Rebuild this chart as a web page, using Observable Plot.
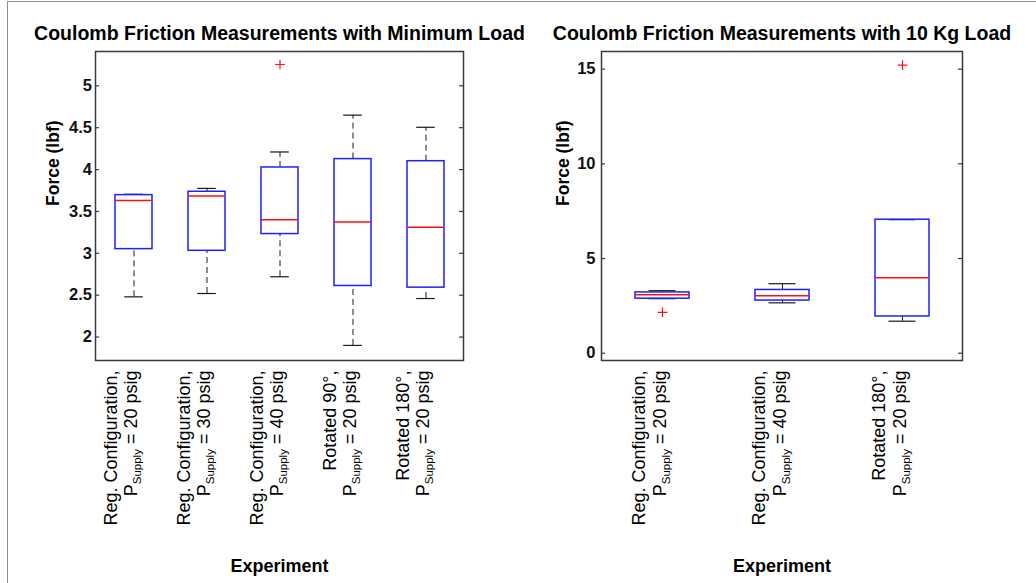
<!DOCTYPE html>
<html>
<head>
<meta charset="utf-8">
<script src="https://cdn.jsdelivr.net/npm/d3@7"></script>
<script src="https://cdn.jsdelivr.net/npm/@observablehq/plot@0.6"></script>
<style>
  body { margin: 0; background: #fff; }
  #page { position: relative; width: 1036px; height: 583px; overflow: hidden;
          font-family: "Liberation Sans", Arial, Helvetica, sans-serif; background: #fff; }
  #page svg { position: absolute; top: 0; }
  .edge { position: absolute; left: 7px; top: 1px; right: -5px; bottom: -5px;
          border-left: 1.5px solid #8c8c8c; border-top: 1.5px solid #8c8c8c; }
</style>
</head>
<body>
<div id="page"><div class="edge"></div></div>
<script>
// ---- Minimum load: five experiments ----
const minTitle = "Coulomb Friction Measurements with Minimum Load";
const minLine1 = ["Reg. Configuration,", "Reg. Configuration,", "Reg. Configuration,", "Rotated 90°,", "Rotated 180°,"];
const minPressure = [20, 30, 40, 20, 20];
const minLow    = [2.48, 2.52, 2.72, 1.90, 2.46];
const minQ1     = [3.05, 3.03, 3.23, 2.61, 2.59];
const minMedian = [3.63, 3.685, 3.40, 3.375, 3.31];
const minQ3     = [3.695, 3.735, 4.025, 4.125, 4.10];
const minHigh   = [3.705, 3.775, 4.21, 4.65, 4.505];
const minOutlierIndex = [2];
const minOutlierValue = [5.255];
const minYTicks = [2, 2.5, 3, 3.5, 4, 4.5, 5];
const minYDomain = [1.72, 5.41];

// ---- 10 kg load: three experiments ----
const kgTitle = "Coulomb Friction Measurements with 10 Kg Load";
const kgLine1 = ["Reg. Configuration,", "Reg. Configuration,", "Rotated 180°,"];
const kgPressure = [20, 40, 20];
const kgLow    = [2.88, 2.66, 1.69];
const kgQ1     = [2.88, 2.78, 1.94];
const kgMedian = [3.08, 3.04, 3.98];
const kgQ3     = [3.21, 3.34, 7.05];
const kgHigh   = [3.30, 3.67, 7.05];
const kgOutlierIndex = [0, 2];
const kgOutlierValue = [2.16, 15.21];
const kgYTicks = [0, 5, 10, 15];
const kgYDomain = [-0.385, 15.93];

const yLabel = "Force (lbf)";
const xLabel = "Experiment";
const font = '"Liberation Sans", Arial, Helvetica, sans-serif';

function panel(cfg) {
  const rows = cfg.line1.map((l, i) => ({
    cat: `${i}:${l}`,
    line1: l,
    line2: `P_Supply = ${cfg.pressure[i]} psig`,
    low: cfg.low[i], q1: cfg.q1[i], med: cfg.median[i], q3: cfg.q3[i], high: cfg.high[i]
  }));
  const outliers = cfg.outlierIndex.map((k, j) => ({cat: rows[k].cat, v: cfg.outlierValue[j]}));
  const frameW = cfg.width - cfg.marginLeft - cfg.marginRight;
  const bw = frameW / rows.length * (1 - cfg.paddingInner);
  const capInset = bw * 0.25;
  const whisker = {stroke: "#1a1a1a", strokeWidth: 1, strokeDasharray: "6,4"};

  const svg = Plot.plot({
    width: cfg.width,
    height: 583,
    marginTop: 51,
    marginBottom: 223,
    marginLeft: cfg.marginLeft,
    marginRight: cfg.marginRight,
    style: {fontFamily: font, background: "transparent", overflow: "visible", color: "#000"},
    x: {type: "band", domain: rows.map(d => d.cat), paddingInner: cfg.paddingInner,
        paddingOuter: cfg.paddingInner / 2, axis: null},
    y: {domain: cfg.yDomain, axis: null},
    marks: [
      // whiskers
      Plot.ruleX(rows, {x: "cat", y1: "q3", y2: "high", ...whisker}),
      Plot.ruleX(rows, {x: "cat", y1: "low", y2: "q1", ...whisker}),
      Plot.tickY(rows, {x: "cat", y: "high", stroke: "#1a1a1a", strokeWidth: 1.2, insetLeft: capInset, insetRight: capInset}),
      Plot.tickY(rows, {x: "cat", y: "low", stroke: "#1a1a1a", strokeWidth: 1.2, insetLeft: capInset, insetRight: capInset}),
      // interquartile boxes and medians
      Plot.barY(rows, {x: "cat", y1: "q1", y2: "q3", fill: "none", stroke: "#2020ff", strokeWidth: 1.5}),
      Plot.tickY(rows, {x: "cat", y: "med", stroke: "#ff1010", strokeWidth: 1.5}),
      // outliers
      Plot.dot(outliers, {x: "cat", y: "v", symbol: "plus", r: 3.2, stroke: "#ff1010", strokeWidth: 1.2}),
      // axes box with inward ticks on both sides
      Plot.frame({stroke: "#3a3a3a", strokeWidth: 1.5}),
      Plot.tickY(cfg.yTicks, {y: d => d, stroke: "#3a3a3a", strokeWidth: 1.2, insetRight: frameW - 4}),
      Plot.tickY(cfg.yTicks, {y: d => d, stroke: "#3a3a3a", strokeWidth: 1.2, insetLeft: frameW - 4}),
      Plot.text(cfg.yTicks, {y: d => d, text: d => String(d), frameAnchor: "left", textAnchor: "end",
        dx: cfg.tickDx, fontSize: 16.5, fontWeight: "bold", fill: "#111"}),
      // category labels, two rotated lines each
      Plot.text(rows, {x: "cat", text: "line1", frameAnchor: "bottom", rotate: -90, textAnchor: "end",
        dy: 10, dx: -17.5, fontSize: 18, fill: "#000"}),
      Plot.text(rows, {x: "cat", text: "line2", frameAnchor: "bottom", rotate: -90, textAnchor: "end",
        dy: 10, dx: 3, fontSize: 18, fill: "#000"}),
      // titles
      Plot.text([cfg.title], {frameAnchor: "top", dy: -25, fontSize: 19.5, fontWeight: "bold", fill: "#000"}),
      Plot.text([yLabel], {frameAnchor: "left", rotate: -90, dx: cfg.yLabelDx, fontSize: 17.5, fontWeight: "bold", fill: "#000"}),
      Plot.text([xLabel], {frameAnchor: "bottom", dy: 211, fontSize: 18, fontWeight: "bold", fill: "#000"})
    ]
  });

  // subscript for P_Supply
  d3.select(svg).selectAll("text").each(function () {
    const s = this.textContent;
    if (!s.startsWith("P_Supply")) return;
    const rest = s.slice("P_Supply".length);
    const t = d3.select(this);
    t.text(null);
    t.append("tspan").text("P");
    t.append("tspan").attr("font-size", 11.5).attr("dy", 4).text("Supply");
    t.append("tspan").attr("dy", -4).text(rest);
  });

  svg.style.left = cfg.left + "px";
  return svg;
}

const page = document.getElementById("page");
page.appendChild(panel({
  title: minTitle, line1: minLine1, pressure: minPressure,
  low: minLow, q1: minQ1, median: minMedian, q3: minQ3, high: minHigh,
  outlierIndex: minOutlierIndex, outlierValue: minOutlierValue,
  yTicks: minYTicks, yDomain: minYDomain,
  left: 0, width: 518, marginLeft: 95, marginRight: 55,
  paddingInner: 0.5, tickDx: -3.5, yLabelDx: -42
}));
page.appendChild(panel({
  title: kgTitle, line1: kgLine1, pressure: kgPressure,
  low: kgLow, q1: kgQ1, median: kgMedian, q3: kgQ3, high: kgHigh,
  outlierIndex: kgOutlierIndex, outlierValue: kgOutlierValue,
  yTicks: kgYTicks, yDomain: kgYDomain,
  left: 518, width: 518, marginLeft: 83, marginRight: 74,
  paddingInner: 0.55, tickDx: -6, yLabelDx: -38
}));
</script>
</body>
</html>
